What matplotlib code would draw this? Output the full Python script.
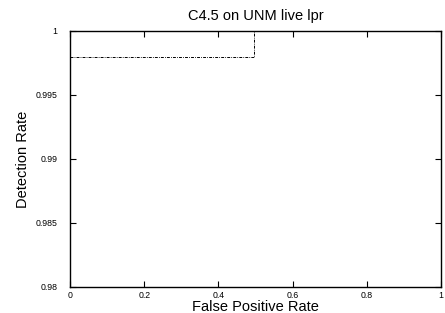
import matplotlib
matplotlib.use('Agg')
import matplotlib.pyplot as plt

# ROC curve data (false positive rate, detection rate)
fpr = [0.0, 0.495, 0.495, 1.0]
tpr = [0.998, 0.998, 1.0, 1.0]

xticks = [0, 0.2, 0.4, 0.6, 0.8, 1]
xticklabels = ['0', '0.2', '0.4', '0.6', '0.8', '1']
yticks = [0.98, 0.985, 0.99, 0.995, 1]
yticklabels = ['0.98', '0.985', '0.99', '0.995', '1']

plt.rcParams['font.family'] = ['Liberation Sans', 'DejaVu Sans']

fig = plt.figure(figsize=(4.45, 3.13), dpi=100)
ax = fig.add_axes([70/445, 1 - 287/313, 371/445, 256/313])

ax.plot(fpr, tpr, color='black', linestyle='-.', linewidth=0.7, dashes=(3, 1.2, 0.8, 1.2))

ax.set_xlim(0, 1)
ax.set_ylim(0.98, 1)
ax.set_xticks(xticks)
ax.set_xticklabels(xticklabels)
ax.set_yticks(yticks)
ax.set_yticklabels(yticklabels)
ax.tick_params(direction='in', top=True, right=True, labelsize=6.3, length=4, width=0.8)
ax.tick_params(axis='y', pad=9)
ax.tick_params(axis='x', pad=3)

for s in ax.spines.values():
    s.set_linewidth(1.0)

ax.set_title('C4.5 on UNM live lpr', fontsize=10.5, pad=8)
ax.set_xlabel('False Positive Rate', fontsize=10.5, labelpad=0)
ax.set_ylabel('Detection Rate', fontsize=10.5, labelpad=4)

fig.savefig('out.png', dpi=100)
